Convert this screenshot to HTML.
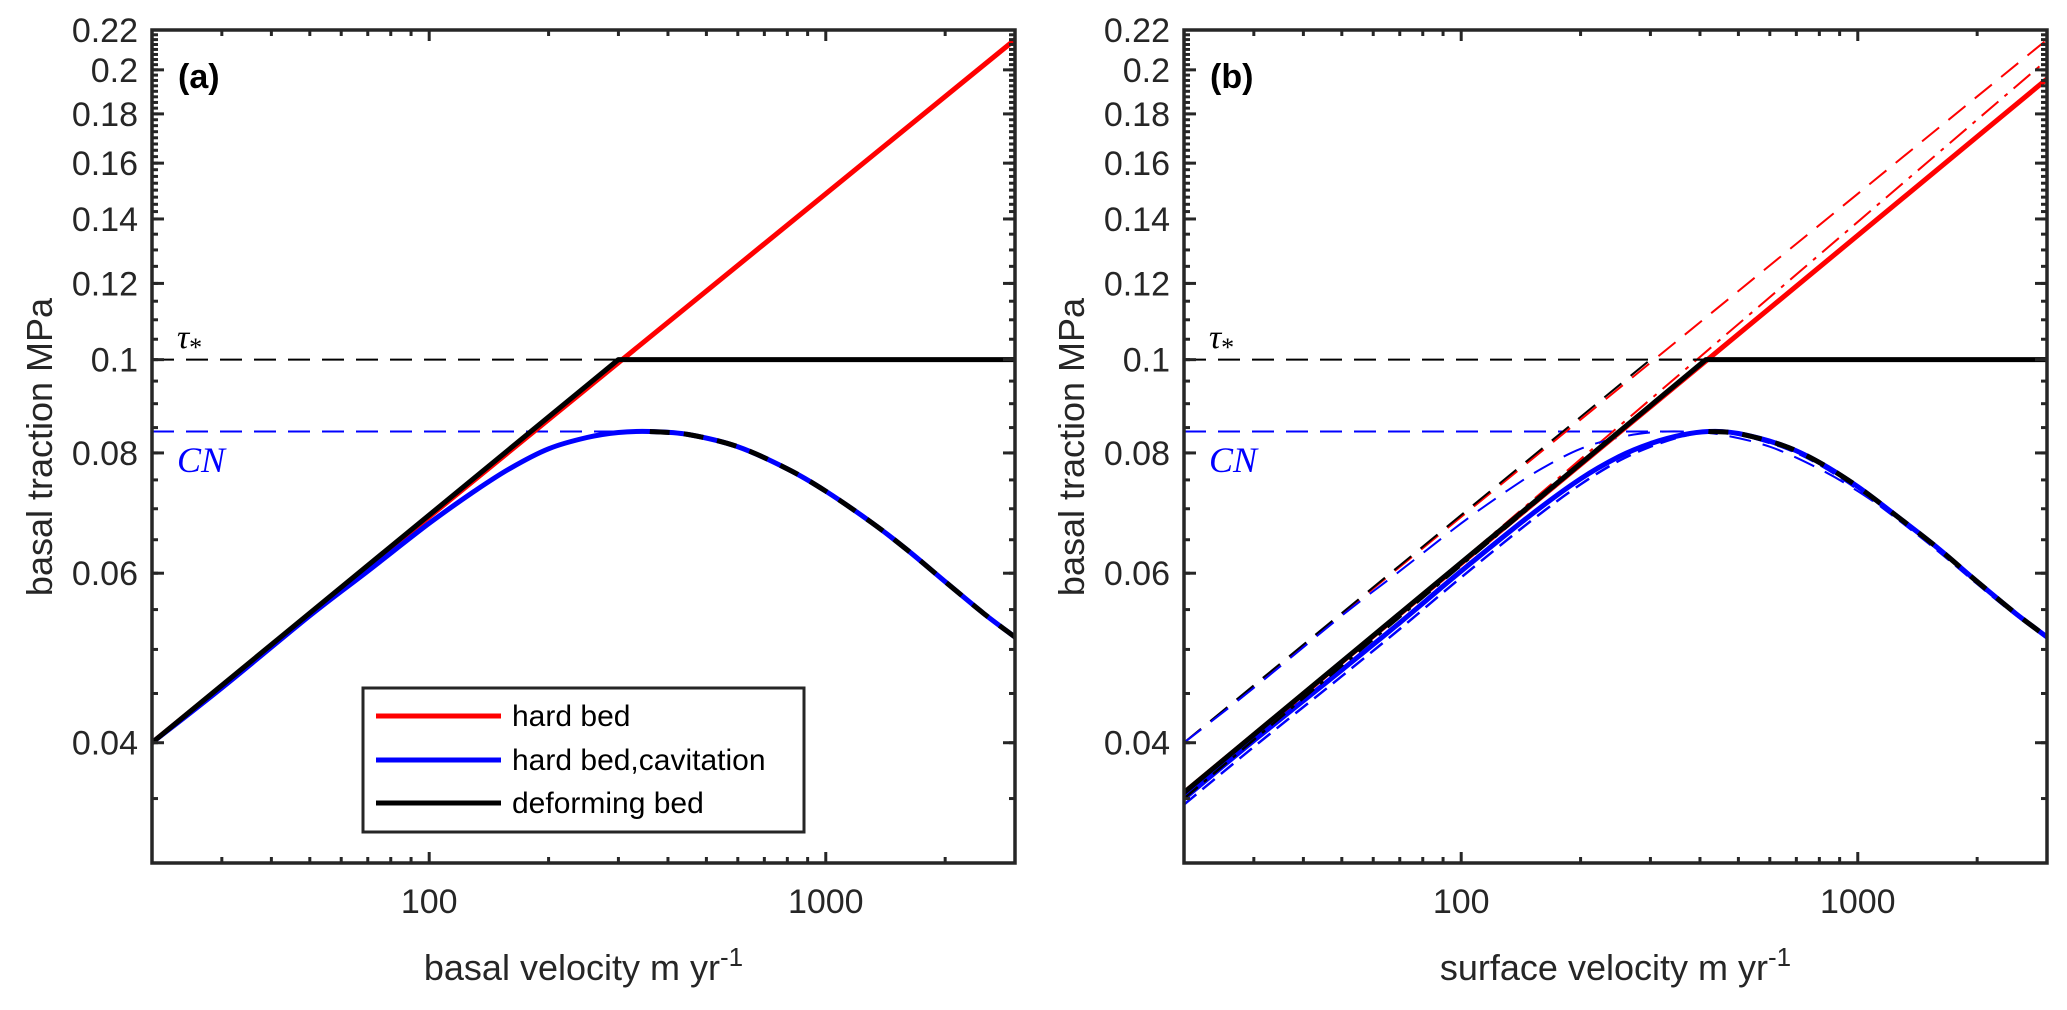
<!DOCTYPE html>
<html><head><meta charset="utf-8"><style>
html,body{margin:0;padding:0;background:#fff;}
svg{display:block;font-family:"Liberation Sans",Arial,sans-serif;}
</style></head><body>
<svg id="fig" width="2067" height="1010" viewBox="0 0 2067 1010" xmlns="http://www.w3.org/2000/svg"></svg>
<script>
// ---- data ----
const xTickMajor = [100, 1000];
const xTickLabels = ["100", "1000"];
const xTickMinor = [20,30,40,50,60,70,80,90,200,300,400,500,600,700,800,900,2000,3000];
const yTickMajor = [0.04,0.06,0.08,0.1,0.12,0.14,0.16,0.18,0.2,0.22];
const yTickLabels = ["0.04","0.06","0.08","0.1","0.12","0.14","0.16","0.18","0.2","0.22"];
const tauStar = 0.1;
const CN = 0.0842;
// panel (a): basal velocity
const redAvel = [20, 3000];
const redAval = [0.040, 0.215];
const blackAvel = [20, 300, 3000];
const blackAval = [0.040, 0.1, 0.1];
const blueAvel = [20,30,50,70,100,130,160,200,250,300,360,450,600,800,1000,1300,1600,2000,2500,3000];
const blueAval = [0.0400,0.0456,0.0542,0.0603,0.0676,0.0730,0.0771,0.0808,0.0830,0.0840,0.0842,0.0836,0.0812,0.0770,0.0730,0.0678,0.0635,0.0588,0.0545,0.0515];
const blackDefAvel = [360,450,600,800,1000,1300,1600,2000,2500,3000];
const blackDefAval = [0.0842,0.0836,0.0812,0.0770,0.0730,0.0678,0.0635,0.0588,0.0545,0.0515];
// panel (b): surface velocity
const redBvel = [20, 3000];
const redBval = [0.0355, 0.1957];
const redBdashdotVal = [0.0350, 0.2048];
const blackBvel = [20, 414, 3000];
const blackBval = [0.0355, 0.1, 0.1];
const blueBvel = [20,30,50,70,100,150,200,250,300,360,420,500,650,800,1000,1300,1600,2000,2500,3000];
const blueBval = [0.0350,0.0402,0.0476,0.0533,0.0603,0.0690,0.0752,0.0793,0.0818,0.0835,0.0842,0.0838,0.0814,0.0782,0.0738,0.0680,0.0636,0.0588,0.0545,0.0515];
const blueBdashVel = [20,30,50,70,100,150,200,250,300,360,420,500,650,800,1000,1300,1600,2000,2500,3000];
const blueBdashVal = [0.0345,0.0396,0.0469,0.0525,0.0594,0.0680,0.0742,0.0785,0.0812,0.0832,0.0842,0.0836,0.0810,0.0778,0.0733,0.0676,0.0632,0.0585,0.0543,0.0515];
const blackBdashdotVel = [20, 414];
const blackBdashdotVal = [0.0350, 0.1];

const svg = document.getElementById('fig');
const NS = 'http://www.w3.org/2000/svg';
function mk(tag, attrs, parent){ const e=document.createElementNS(NS,tag); for(const k in attrs) e.setAttribute(k,attrs[k]); (parent||svg).appendChild(e); return e; }

const XMIN=20, XMAX=3000, YMIN=0.03, YMAX=0.22, TOP=30, BOT=863, W=863;
function makeAxes(left){
  return {
    x: v => left + (Math.log10(v)-Math.log10(XMIN))/(Math.log10(XMAX)-Math.log10(XMIN))*W,
    y: v => BOT - (Math.log10(v)-Math.log10(YMIN))/(Math.log10(YMAX)-Math.log10(YMIN))*(BOT-TOP),
    left: left, right: left+W
  };
}
function line(ax, xs, ys, color, width, dash, name, parent){
  const P = xs.map((v,i)=>[ax.x(v), ax.y(ys[i])]);
  let d = 'M'+P[0][0].toFixed(1)+','+P[0][1].toFixed(1);
  for(let i=0;i<P.length-1;i++){
    const p0=P[Math.max(0,i-1)], p1=P[i], p2=P[i+1], p3=P[Math.min(P.length-1,i+2)];
    const c1=[p1[0]+(p2[0]-p0[0])/6, p1[1]+(p2[1]-p0[1])/6];
    const c2=[p2[0]-(p3[0]-p1[0])/6, p2[1]-(p3[1]-p1[1])/6];
    d += ' C'+c1[0].toFixed(1)+','+c1[1].toFixed(1)+' '+c2[0].toFixed(1)+','+c2[1].toFixed(1)+' '+p2[0].toFixed(1)+','+p2[1].toFixed(1);
  }
  const p = mk('path',{d:d,fill:'none',stroke:color,'stroke-width':width,'stroke-linejoin':'round'},parent);
  if(dash) p.setAttribute('stroke-dasharray',dash);
  
  
  return p;
}
function straight(ax, xs, ys, color, width, dash, name, parent){
  const pts = xs.map((v,i)=>ax.x(v).toFixed(1)+','+ax.y(ys[i]).toFixed(1)).join(' ');
  const p = mk('polyline',{points:pts,fill:'none',stroke:color,'stroke-width':width,'stroke-linejoin':'round'},parent);
  if(dash) p.setAttribute('stroke-dasharray',dash);
  
  
  return p;
}

function panel(left, id){
  const ax = makeAxes(left);
  const g = mk('g',{});
  
  
  const clipId='clip'+id;
  const cp = mk('clipPath',{id:clipId},g);
  mk('rect',{x:ax.left,y:TOP,width:W,height:BOT-TOP},cp);
  const plot = mk('g',{'clip-path':'url(#'+clipId+')'},g);
  
  
  return {ax,g,plot};
}

function frame(P, id, xlabel){
  const ax=P.ax, g=P.g, c='#262626';
  const tk = mk('g',{stroke:c,'stroke-width':3},g);
  
  
  xTickMajor.forEach(v=>{const X=ax.x(v);
    mk('line',{x1:X,x2:X,y1:BOT,y2:BOT-11},tk); mk('line',{x1:X,x2:X,y1:TOP,y2:TOP+11},tk);});
  xTickMinor.forEach(v=>{const X=ax.x(v);
    mk('line',{x1:X,x2:X,y1:BOT,y2:BOT-6},tk); mk('line',{x1:X,x2:X,y1:TOP,y2:TOP+6},tk);});
  yTickMajor.forEach(v=>{const Y=ax.y(v);
    mk('line',{x1:ax.left,x2:ax.left+12,y1:Y,y2:Y},tk); mk('line',{x1:ax.right,x2:ax.right-12,y1:Y,y2:Y},tk);});
  for(let v=0.035; v<0.2201; v+= (v>=0.14?0.0025:0.005)){
    const vv=Math.round(v*10000)/10000; const Y=ax.y(vv);
    mk('line',{x1:ax.left,x2:ax.left+6,y1:Y,y2:Y},tk); mk('line',{x1:ax.right,x2:ax.right-6,y1:Y,y2:Y},tk);
  }
  const box = mk('rect',{x:ax.left,y:TOP,width:W,height:BOT-TOP,fill:'none',stroke:c,'stroke-width':3.5},g);
  
  
  xTickMajor.forEach((v,i)=>{
    const t=mk('text',{x:ax.x(v),y:913,'font-size':34,'text-anchor':'middle',fill:c},g); t.textContent=xTickLabels[i];
    
    
  });
  yTickMajor.forEach((v,i)=>{
    const t=mk('text',{x:ax.left-14,y:ax.y(v)+12,'font-size':34,'text-anchor':'end',fill:c},g); t.textContent=yTickLabels[i];
    
    
  });
  const xl=mk('text',{x:(ax.left+ax.right)/2,y:980,'font-size':36,'text-anchor':'middle',fill:c},g);
  xl.innerHTML = xlabel+' m yr<tspan dy="-14" font-size="26">-1</tspan>';
  
  
  const yl=mk('text',{x:0,y:0,'font-size':36,'text-anchor':'middle',fill:c,transform:'translate('+(ax.left-100)+',447) rotate(-90)'},g);
  yl.textContent='basal traction MPa';
  
  
  const pl=mk('text',{x:ax.left+26,y:88,'font-size':34,'font-weight':'bold',fill:'#000'},g);
  pl.textContent='('+id+')';
  
  
  const ts=mk('text',{x:ax.left+25,y:348,'font-size':34,'font-style':'italic','font-family':'"Liberation Serif",serif',fill:'#000'},g);
  ts.innerHTML='τ<tspan dy="8" font-size="26" font-style="normal">*</tspan>';
  
  
  const cn=mk('text',{x:ax.left+25,y:472,'font-size':36,'font-style':'italic','font-family':'"Liberation Serif",serif',fill:'#0000ff'},g);
  cn.textContent='CN';
  
  
}

// Panel (a)
const A = panel(152,'a');
straight(A.ax,[XMIN,XMAX],[tauStar,tauStar],'#000',2,'22 12','tau-star-line',A.plot);
straight(A.ax,[XMIN,360],[CN,CN],'#0000ff',2,'22 12','cn-line',A.plot);
straight(A.ax,redAvel,redAval,'#ff0000',5,null,'hard-bed-line',A.plot);
line(A.ax,blueAvel,blueAval,'#0000ff',5,null,'cavitation-line',A.plot);
line(A.ax,blackDefAvel,blackDefAval,'#000',5,'20 14','deforming-bed-dashed-overlay',A.plot);
straight(A.ax,blackAvel,blackAval,'#000',5,null,'deforming-bed-line',A.plot);
frame(A,'a','basal velocity');

// Legend
const lg = mk('g',{});


mk('rect',{x:363,y:688,width:441,height:144,fill:'#fff',stroke:'#262626','stroke-width':3},lg);
[['hard bed','#ff0000',716],['hard bed,cavitation','#0000ff',760],['deforming bed','#000',803]].forEach(e=>{
  const l=mk('line',{x1:376,x2:501,y1:e[2],y2:e[2],stroke:e[1],'stroke-width':5},lg);
  
  
  const t=mk('text',{x:512,y:e[2]+10,'font-size':30,fill:'#000'},lg); t.textContent=e[0];
  
  
});

// Panel (b)
const B = panel(1184,'b');
straight(B.ax,[XMIN,XMAX],[tauStar,tauStar],'#000',2,'22 12','tau-star-line',B.plot);
straight(B.ax,[XMIN,420],[CN,CN],'#0000ff',2,'22 12','cn-line',B.plot);
straight(B.ax,redAvel,redAval,'#ff0000',2,'22 12','hard-bed-basal-dashed',B.plot);
straight(B.ax,redBvel,redBdashdotVal,'#ff0000',2,'22 8 4 8','hard-bed-dashdot',B.plot);
straight(B.ax,blackAvel,blackAval,'#000',2,'22 12','deforming-bed-basal-dashed',B.plot);
line(B.ax,blueAvel,blueAval,'#0000ff',2,'22 12','cavitation-basal-dashed',B.plot);
straight(B.ax,redBvel,redBval,'#ff0000',5,null,'hard-bed-line',B.plot);
line(B.ax,blueBvel,blueBval,'#0000ff',5,null,'cavitation-line',B.plot);
line(B.ax,blueBdashVel,blueBdashVal,'#0000ff',2.5,'16 8','cavitation-dashed-variant',B.plot);
straight(B.ax,blackBdashdotVel,blackBdashdotVal,'#000',2.5,'18 8 4 8','deforming-bed-dashdot',B.plot);
line(B.ax,blueBvel.slice(10),blueBval.slice(10),'#000',5,'20 14','deforming-bed-dashed-overlay',B.plot);
straight(B.ax,blackBvel,blackBval,'#000',5,null,'deforming-bed-line',B.plot);
frame(B,'b','surface velocity');
</script>
</body></html>
